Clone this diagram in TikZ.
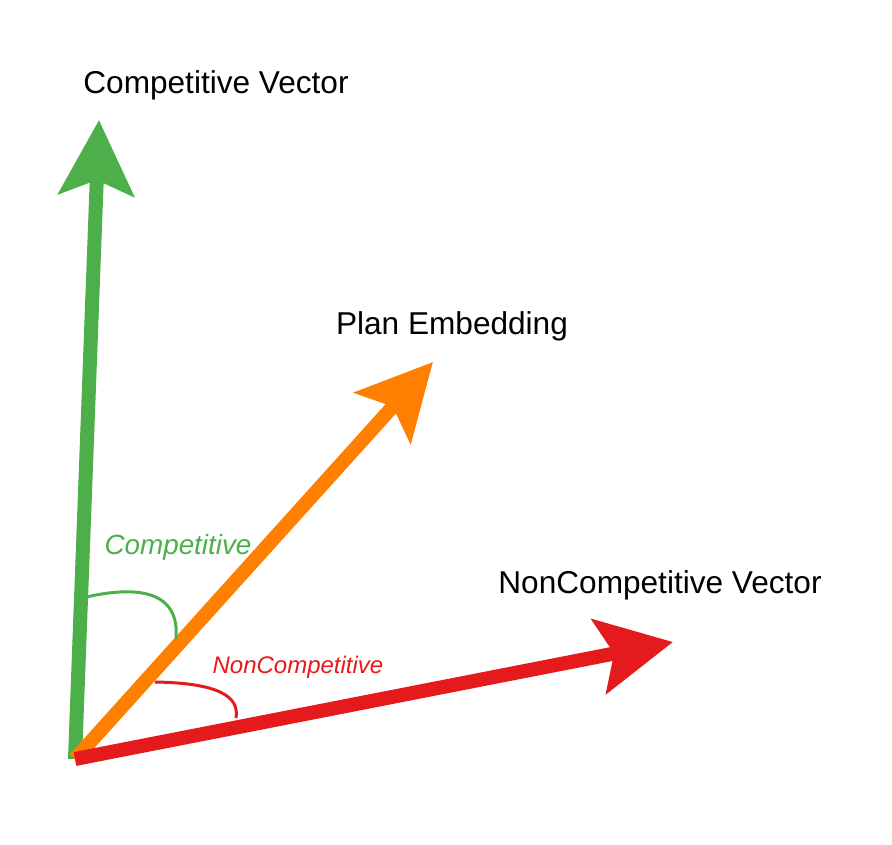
\documentclass[tikz,border=0pt]{standalone}
\usepackage{fontspec}
\setmainfont{Liberation Sans}
\usetikzlibrary{positioning,arrows.meta}
\definecolor{setgreen}{RGB}{77,175,74}
\definecolor{setorange}{RGB}{255,127,0}
\definecolor{setred}{RGB}{228,26,28}
\tikzstyle{vector} = [line width=14pt, -{Stealth[length=75pt, width=75pt, inset=15pt]}]
\tikzstyle{angle} = [line width=3pt]
\tikzstyle{label} = [font=\fontsize{31.6}{38}\selectfont, inner sep=0pt]
\tikzstyle{anglelabel} = [font=\itshape, inner sep=0pt]

\begin{document}
\begin{tikzpicture}[x=1pt, y=-1pt]
        \useasboundingbox (0,0) rectangle (892,844);
        % Points -----------------------------------------------------------------------------------
        \coordinate (origin) at (75,759);
        \coordinate (comp_tip) at (99,120);
        \coordinate (plan_tip) at (433,362);
        \coordinate (noncomp_tip) at (673,642);
        % Vectors ----------------------------------------------------------------------------------
        \draw[vector, setgreen] (origin) -- (comp_tip);
        \draw[vector, setorange] (origin) -- (plan_tip);
        \draw[vector, setred] (origin) -- (noncomp_tip);
        % Angles -----------------------------------------------------------------------------------
        \coordinate (comp_a) at (82,598);
        \coordinate (comp_b) at (176,639);
        \coordinate (noncomp_a) at (155,682);
        \coordinate (noncomp_b) at (236,718);
        \draw[angle, setgreen] (comp_a) .. controls (140,584) and (180,592) .. (comp_b);
        \draw[angle, setred] (noncomp_a) .. controls (215,683) and (240,695) .. (noncomp_b);
        % Labels -----------------------------------------------------------------------------------
        \node[label](comp_label) at (216,85){Competitive Vector};
        \node[label](plan_label) at (452,326){Plan Embedding};
        \node[label](noncomp_label) at (660,585){NonCompetitive Vector};
        \node[anglelabel, text=setgreen, font=\fontsize{27.8}{33}\selectfont\itshape](comp_angle) at (178,547){Competitive};
        \node[anglelabel, text=setred, font=\fontsize{24}{29}\selectfont\itshape](noncomp_angle) at (298,667){NonCompetitive};
    \end{tikzpicture}
\end{document}
